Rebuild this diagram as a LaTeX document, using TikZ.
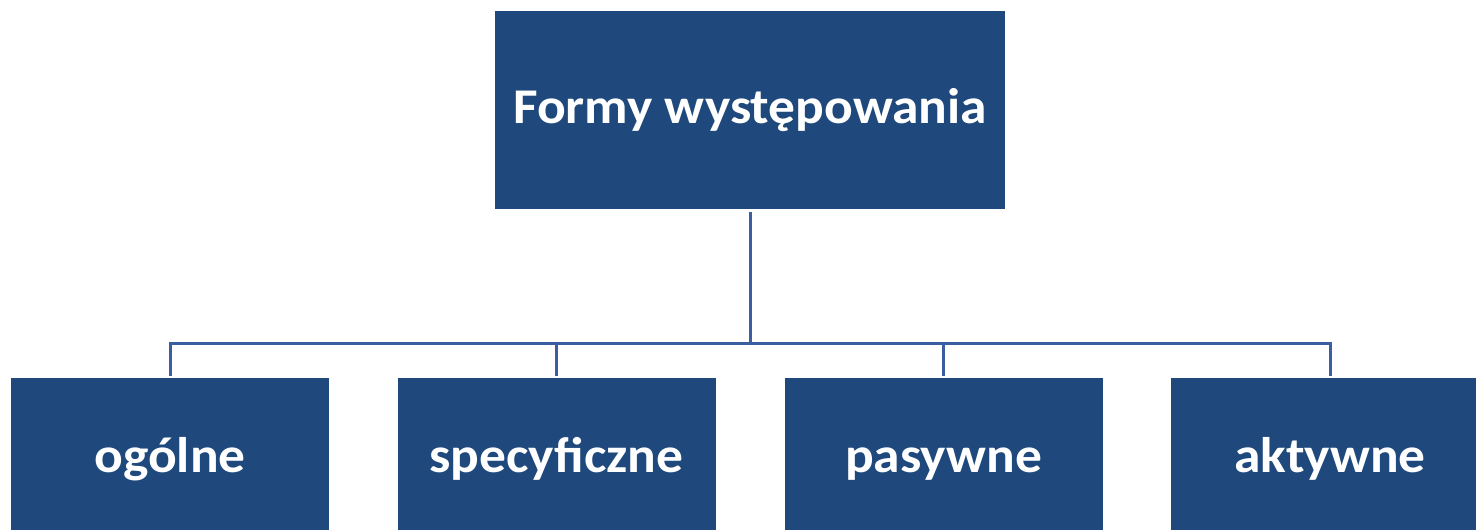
\documentclass[tikz,border=0pt]{standalone}
\usepackage{fontspec}
\setmainfont{Carlito}[FakeStretch=1.07]
\definecolor{boxblue}{HTML}{1F497D}
\definecolor{lineblue}{HTML}{3A5FA0}
\begin{document}
\begin{tikzpicture}[x=1pt,y=-1pt,
  box/.style={fill=boxblue,draw=none,inner sep=0pt,text=white,font=\fontsize{50}{60}\selectfont\bfseries},
  topbox/.style={box,minimum width=510pt,minimum height=198pt,text height=40pt,text depth=14pt},
  leaf/.style={box,minimum width=318pt,minimum height=152pt,anchor=north,text height=50pt,text depth=13pt},
  conn/.style={draw=lineblue,line width=3pt}]
\useasboundingbox (0,0) rectangle (1476,530);
\clip (0,0) rectangle (1476,530);
\node[topbox] (top) at (750,110) {Formy występowania};
\node[leaf] (b1) at (170,378) {ogólne};
\node[leaf] (b2) at (556.5,378) {specyficzne};
\node[leaf] (b3) at (943.5,378) {pasywne};
\node[leaf] (b4) at (1330,378) {aktywne};
\coordinate (hub) at (750,343.5);
\draw[conn] ([yshift=-3pt]top.south) -- (hub);
\draw[conn] ([yshift=2pt]b1.north) |- (hub);
\draw[conn] ([yshift=2pt]b4.north) |- (hub);
\draw[conn] ([yshift=2pt]b2.north) -- (b2.north |- hub);
\draw[conn] ([yshift=2pt]b3.north) -- (b3.north |- hub);
\end{tikzpicture}
\end{document}
